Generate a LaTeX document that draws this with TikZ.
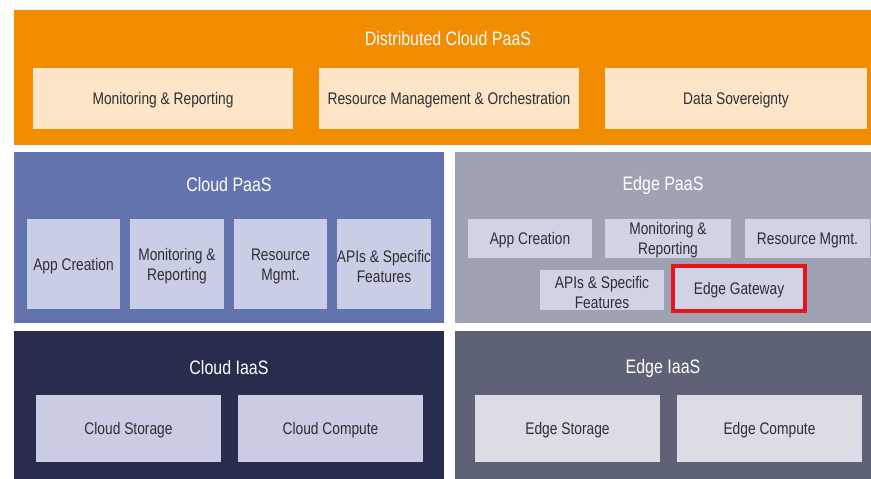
\documentclass[tikz,border=0pt]{standalone}
\usepackage{fontspec}
\setmainfont[FakeStretch=0.82]{Liberation Sans}
\definecolor{orangeP}{HTML}{F28C00}
\definecolor{beige}{HTML}{FDE6C8}
\definecolor{cpaas}{HTML}{6373AE}
\definecolor{cpaasin}{HTML}{C9CDE6}
\definecolor{epaas}{HTML}{9FA2B3}
\definecolor{epaasin}{HTML}{D1D3E5}
\definecolor{ciaas}{HTML}{282C4D}
\definecolor{ciaasin}{HTML}{C9CCE2}
\definecolor{eiaas}{HTML}{5E6276}
\definecolor{eiaasin}{HTML}{DCDDE4}
\definecolor{txt}{HTML}{2E2E33}
\definecolor{gw}{HTML}{E8141B}
\tikzset{
  ttl/.style={text=white, font=\fontsize{19.5}{21}\selectfont, anchor=center},
  item/.style={inner sep=0pt, text=txt, font=\fontsize{16.8}{20}\selectfont, align=center, anchor=center, yshift=-2pt},
}
\newcommand{\boxat}[6]{% name, x1,y1,x2,y2, fill
  \fill[#6] (#2,#3) rectangle (#4,#5);
  \coordinate (#1) at ({(#2+#4)/2},{(#3+#5)/2});
}
\begin{document}
\begin{tikzpicture}[x=1pt,y=-1pt]
\useasboundingbox (0,0) rectangle (871,479);
\fill[white] (0,0) rectangle (871,479);
% Distributed Cloud PaaS
\fill[orangeP] (14,10) rectangle (871,145);
\node[ttl] (dtitle) at (448,39) {Distributed Cloud PaaS};
\boxat{d1}{33}{68}{293}{129}{beige}
\boxat{d2}{319}{68}{579}{129}{beige}
\boxat{d3}{605}{68}{867}{129}{beige}
\node[item] (d1t) at (d1) {Monitoring \& Reporting};
\node[item] (d2t) at (d2) {Resource Management \& Orchestration};
\node[item] (d3t) at (d3) {Data Sovereignty};
% Cloud PaaS
\fill[cpaas] (14,152) rectangle (444,323);
\node[ttl] (ctitle) at (229,185) {Cloud PaaS};
\boxat{c1}{27}{219}{120}{309}{cpaasin}
\boxat{c2}{130}{219}{224}{309}{cpaasin}
\boxat{c3}{234}{219}{327}{309}{cpaasin}
\boxat{c4}{337}{219}{431}{309}{cpaasin}
\node[item] (c1t) at (c1) {App Creation};
\node[item] (c2t) at (c2) {Monitoring \&\\Reporting};
\node[item] (c3t) at (c3) {Resource\\Mgmt.};
\node[item] (c4t) at (c4) {APIs \& Specific\\Features};
% Edge PaaS
\fill[epaas] (455,152) rectangle (871,323);
\node[ttl] (etitle) at (663,185) {Edge PaaS};
\boxat{e1}{468}{219}{592}{258}{epaasin}
\boxat{e2}{605}{219}{731}{258}{epaasin}
\boxat{e3}{745}{219}{870}{258}{epaasin}
\boxat{e4}{540}{270}{664}{310}{epaasin}
\boxat{e5}{673}{266}{805}{311}{epaasin}
\draw[gw, line width=3.5pt] (673,266) rectangle (805,311);
\node[item] (e1t) at (e1) {App Creation};
\node[item] (e2t) at (e2) {Monitoring \&\\Reporting};
\node[item] (e3t) at (e3) {Resource Mgmt.};
\node[item] (e4t) at (e4) {APIs \& Specific\\Features};
\node[item] (e5t) at (e5) {Edge Gateway};
% Cloud IaaS
\fill[ciaas] (14,331) rectangle (444,479);
\node[ttl] (cititle) at (229,368) {Cloud IaaS};
\boxat{i1}{36}{395}{221}{462}{ciaasin}
\boxat{i2}{238}{395}{423}{462}{ciaasin}
\node[item] (i1t) at (i1) {Cloud Storage};
\node[item] (i2t) at (i2) {Cloud Compute};
% Edge IaaS
\fill[eiaas] (455,331) rectangle (871,479);
\node[ttl] (eititle) at (663,368) {Edge IaaS};
\boxat{j1}{475}{395}{660}{462}{eiaasin}
\boxat{j2}{677}{395}{862}{462}{eiaasin}
\node[item] (j1t) at (j1) {Edge Storage};
\node[item] (j2t) at (j2) {Edge Compute};
\end{tikzpicture}
\end{document}
